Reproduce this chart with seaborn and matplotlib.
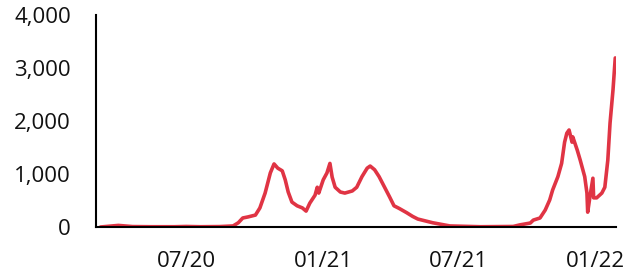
import matplotlib
matplotlib.use("Agg")
import matplotlib.pyplot as plt
import matplotlib.dates as mdates
import matplotlib.ticker as mticker
import pandas as pd
import seaborn as sns

dates = [
    "2020-03-08", "2020-03-20", "2020-04-01", "2020-04-20", "2020-05-15", "2020-06-15",
    "2020-07-01", "2020-07-20", "2020-08-15", "2020-09-02", "2020-09-09", "2020-09-15",
    "2020-09-22", "2020-10-02", "2020-10-08", "2020-10-15", "2020-10-22", "2020-10-27",
    "2020-11-01", "2020-11-07", "2020-11-11", "2020-11-15", "2020-11-20", "2020-11-27",
    "2020-12-04", "2020-12-09", "2020-12-14", "2020-12-21", "2020-12-24", "2020-12-26",
    "2021-01-01", "2021-01-06", "2021-01-10", "2021-01-13", "2021-01-17", "2021-01-24",
    "2021-01-30", "2021-02-09", "2021-02-15", "2021-02-22", "2021-03-01", "2021-03-05",
    "2021-03-11", "2021-03-17", "2021-03-24", "2021-03-31", "2021-04-06", "2021-04-13",
    "2021-04-23", "2021-05-01", "2021-05-08", "2021-05-28", "2021-06-20", "2021-07-31",
    "2021-09-13", "2021-09-22", "2021-10-06", "2021-10-10", "2021-10-19", "2021-10-26",
    "2021-11-01", "2021-11-05", "2021-11-12", "2021-11-17", "2021-11-21", "2021-11-24",
    "2021-11-27", "2021-12-01", "2021-12-02", "2021-12-08", "2021-12-12", "2021-12-18",
    "2021-12-21", "2021-12-22", "2021-12-25", "2021-12-29", "2021-12-30", "2022-01-03",
    "2022-01-10", "2022-01-14", "2022-01-18", "2022-01-21", "2022-01-25", "2022-01-28",
]
values = [
    0, 15, 30, 8, 5, 5,
    10, 5, 8, 20, 80, 170,
    190, 225, 360, 640, 1020, 1190,
    1110, 1060, 890, 660, 470, 400,
    360, 300, 450, 600, 750, 640,
    890, 1020, 1200, 940, 750, 660,
    640, 680, 750, 950, 1110, 1150,
    1080, 950, 760, 570, 400, 350,
    270, 200, 150, 80, 20, 5,
    10, 40, 75, 130, 170, 320,
    510, 700, 950, 1200, 1600, 1770,
    1830, 1600, 1700, 1450, 1260, 950,
    640, 280, 570, 920, 550, 550,
    640, 750, 1260, 1960, 2590, 3190,
]

x_ticks = ["2020-07-01", "2021-01-01", "2021-07-01", "2022-01-01"]
y_ticks = [0, 1000, 2000, 3000, 4000]

df = pd.DataFrame({"date": pd.to_datetime(dates), "value": values})

sns.set_style("white")
plt.rcParams["font.family"] = ["Open Sans", "DejaVu Sans"]

fig = plt.figure(figsize=(6.27, 2.76), dpi=100)
ax = fig.add_axes([96 / 627, 49 / 276, (616 - 96) / 627, (228 - 15) / 276 - 1 / 276])

sns.lineplot(data=df, x="date", y="value", ax=ax, color="#E03444", linewidth=2.6)

ax.set_xlim(pd.Timestamp("2020-03-02"), pd.Timestamp("2022-01-29"))
ax.set_ylim(0, 4000)
ax.set_xticks(pd.to_datetime(x_ticks))
ax.xaxis.set_major_formatter(mdates.DateFormatter("%m/%y"))
ax.set_yticks(y_ticks)
ax.yaxis.set_major_formatter(mticker.FuncFormatter(lambda v, p: f"{int(v):,}"))
ax.set_xlabel("")
ax.set_ylabel("")

for s in ["top", "right"]:
    ax.spines[s].set_visible(False)
for s in ["left", "bottom"]:
    ax.spines[s].set_color("black")
    ax.spines[s].set_linewidth(1.5)

ax.tick_params(axis="both", which="major", direction="out", length=6, width=1.2,
               color="black", labelsize=16, labelcolor="#111111")
ax.tick_params(axis="y", pad=12)
ax.tick_params(axis="x", pad=11)
ax.grid(False)

fig.savefig("out.png", dpi=100)
